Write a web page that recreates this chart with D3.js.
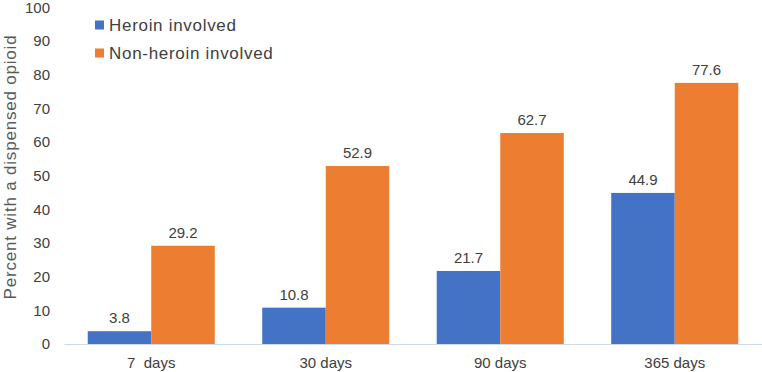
<!DOCTYPE html>
<html>
<head>
<meta charset="utf-8">
<script src="https://cdn.jsdelivr.net/npm/d3@7"></script>
<style>
  body { margin: 0; background: #fff; }
  text { font-family: "Liberation Sans", Arial, sans-serif; fill: #404040; }
</style>
</head>
<body>
<div id="chart"></div>
<script>
const categories = ["7  days", "30 days", "90 days", "365 days"];
const series = ["Heroin involved", "Non-heroin involved"];
const heroin = [3.8, 10.8, 21.7, 44.9];
const nonHeroin = [29.2, 52.9, 62.7, 77.6];
const yTicks = [0, 10, 20, 30, 40, 50, 60, 70, 80, 90, 100];
const colors = ["#4472C4", "#ED7D31"];

const width = 762, height = 372;
const values = [heroin, nonHeroin];

const svg = d3.select("#chart").append("svg")
    .attr("width", width)
    .attr("height", height);

const x0 = d3.scaleBand()
    .domain(categories)
    .range([64, 762])
    .paddingInner(0.272)
    .paddingOuter(0.136);

const x1 = d3.scaleBand()
    .domain(series)
    .range([0, x0.bandwidth()]);

const y = d3.scaleLinear()
    .domain([0, 100])
    .range([344, 7.5]);

// Y axis labels
svg.append("g")
    .attr("transform", "translate(50,0)")
    .call(d3.axisLeft(y).tickValues(yTicks).tickSize(0).tickPadding(0))
    .call(g => g.select(".domain").remove())
    .selectAll("text")
        .style("font-size", "15px")
        .style("font-family", "Liberation Sans, Arial, sans-serif")
        .attr("fill", "#595959");

// Y axis title
svg.append("text")
    .attr("transform", "rotate(-90)")
    .attr("x", -167)
    .attr("y", 16)
    .attr("text-anchor", "middle")
    .style("font-size", "17px")
    .style("letter-spacing", "0.8px")
    .style("fill", "#595959")
    .text("Percent with a dispensed opioid");

// Bars
const groups = svg.append("g").selectAll("g")
    .data(categories)
    .enter().append("g")
    .attr("transform", d => "translate(" + x0(d) + ",0)");

groups.selectAll("rect")
    .data((d, i) => series.map((s, j) => ({ s: s, v: values[j][i] })))
    .enter().append("rect")
    .attr("x", d => x1(d.s))
    .attr("y", d => y(d.v))
    .attr("width", x1.bandwidth())
    .attr("height", d => y(0) - y(d.v))
    .attr("fill", (d, j) => colors[j]);

groups.selectAll("text.val")
    .data((d, i) => series.map((s, j) => ({ s: s, v: values[j][i] })))
    .enter().append("text")
    .attr("class", "val")
    .attr("x", d => x1(d.s) + x1.bandwidth() / 2)
    .attr("y", d => y(d.v) - 8)
    .attr("text-anchor", "middle")
    .style("font-size", "15px")
    .text(d => d.v.toFixed(1));

// X axis
svg.append("g")
    .attr("transform", "translate(0," + y(0) + ")")
    .call(d3.axisBottom(x0).tickSize(0).tickPadding(13))
    .call(g => g.select(".domain").attr("stroke", "#d0d7e5").attr("stroke-width", 1))
    .selectAll("text")
        .style("font-size", "15px")
        .style("font-family", "Liberation Sans, Arial, sans-serif")
        .attr("fill", "#404040")
        .style("white-space", "pre");

// Legend
const legend = svg.append("g").selectAll("g")
    .data(series)
    .enter().append("g")
    .attr("transform", (d, i) => "translate(95," + (25 + i * 28) + ")");

legend.append("rect")
    .attr("x", 0)
    .attr("y", -4.5)
    .attr("width", 9)
    .attr("height", 9)
    .attr("fill", (d, i) => colors[i]);

legend.append("text")
    .attr("x", 14)
    .attr("y", 0)
    .attr("dy", "0.35em")
    .style("font-size", "17px")
    .style("letter-spacing", "0.7px")
    .text(d => d);
</script>
</body>
</html>
